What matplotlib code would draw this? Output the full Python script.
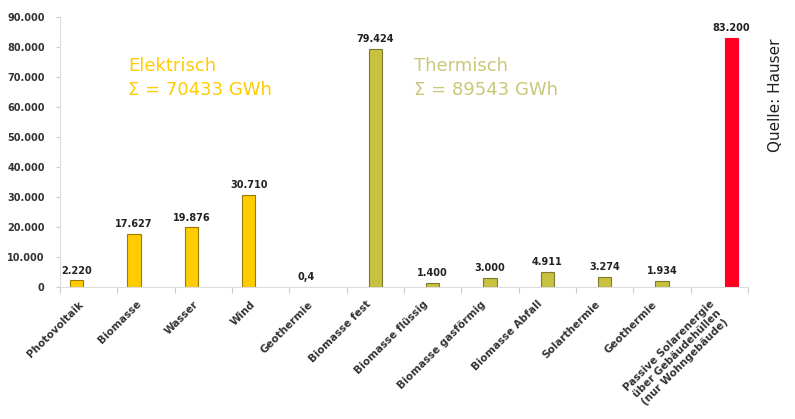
import matplotlib
matplotlib.use("Agg")
import matplotlib.pyplot as plt
import matplotlib.transforms as mtransforms
from matplotlib import font_manager
import numpy as np

categories = ["Photovoltaik", "Biomasse", "Wasser", "Wind", "Geothermie",
              "Biomasse fest", "Biomasse flüssig", "Biomasse gasförmig",
              "Biomasse Abfall", "Solarthermie", "Geothermie",
              "Passive Solarenergie\nüber Gebäudehüllen\n(nur Wohngebäude)"]
values = [2220, 17627, 19876, 30710, 0.4, 79424, 1400, 3000, 4911, 3274, 1934, 83200]
value_labels = ["2.220", "17.627", "19.876", "30.710", "0,4", "79.424", "1.400",
                "3.000", "4.911", "3.274", "1.934", "83.200"]
groups = ["el"] * 5 + ["th"] * 6 + ["pass"]
yticks = [0, 10000, 20000, 30000, 40000, 50000, 60000, 70000, 80000, 90000]
ytick_labels = ["0", "10.000", "20.000", "30.000", "40.000", "50.000", "60.000",
                "70.000", "80.000", "90.000"]

face = {"el": "#FFCC00", "th": "#C8C040", "pass": "#FF0022"}
edge = {"el": "#9A7A00", "th": "#7A7A30", "pass": "#FF0022"}
offset = {"el": -0.21, "th": 0.0, "pass": 0.21}

fig = plt.figure(figsize=(7.95, 4.19), dpi=100)
ax = fig.add_axes([0.0755, 0.315, 0.8655, 0.644])

x = np.arange(len(categories))
for xi, v, g, lab in zip(x, values, groups, value_labels):
    xb = xi + offset[g]
    ax.bar(xb, v, width=0.23, color=face[g], edgecolor=edge[g], linewidth=0.8)
    ax.text(xb, v + 1600, lab, ha="center", va="bottom", fontsize=7,
            fontweight="bold", color="#222222")

ax.set_xlim(-0.5, len(categories) - 0.5)
ax.set_ylim(0, 90000)
ax.set_yticks(yticks)
ax.set_yticklabels(ytick_labels, fontsize=7, fontweight="bold", color="#333333")
ax.set_xticks(np.arange(len(categories) + 1) - 0.5)
ax.set_xticklabels([])
ax.tick_params(axis="x", length=4, color="#CCCCCC", direction="out")
ax.tick_params(axis="y", length=3, color="#CCCCCC", pad=8)

base = mtransforms.blended_transform_factory(ax.transData, ax.transAxes)
shift = mtransforms.ScaledTranslation(-10 / 100, -12 / 100, fig.dpi_scale_trans)
for xi, cat in zip(x, categories):
    ax.text(xi, 0, cat, transform=base + shift, rotation=45, ha="right",
            va="top", rotation_mode="anchor", fontsize=7.5, fontweight="bold",
            color="#333333", multialignment="center", linespacing=1.1)

for s in ["top", "right"]:
    ax.spines[s].set_visible(False)
ax.spines["left"].set_color("#DDDDDD")
ax.spines["bottom"].set_color("#DDDDDD")

fig.text(128 / 795, 1 - 66 / 419, "Elektrisch", color="#FFCC00", fontsize=13,
         ha="left", va="center")
fig.text(128 / 795, 1 - 90 / 419, "Σ = 70433 GWh", color="#FFCC00", fontsize=13,
         ha="left", va="center")
fig.text(414 / 795, 1 - 66 / 419, "Thermisch", color="#C8C878", fontsize=13,
         ha="left", va="center")
fig.text(414 / 795, 1 - 90 / 419, "Σ = 89543 GWh", color="#C8C878", fontsize=13,
         ha="left", va="center")

names = {f.name for f in font_manager.fontManager.ttflist}
qfam = "Liberation Sans Narrow" if "Liberation Sans Narrow" in names else "DejaVu Sans"
fig.text(775 / 795, 1 - 95 / 419, "Quelle: Hauser", rotation=90, fontsize=11,
         ha="center", va="center", color="#222222", family=qfam)

fig.savefig("out.png", dpi=100)
